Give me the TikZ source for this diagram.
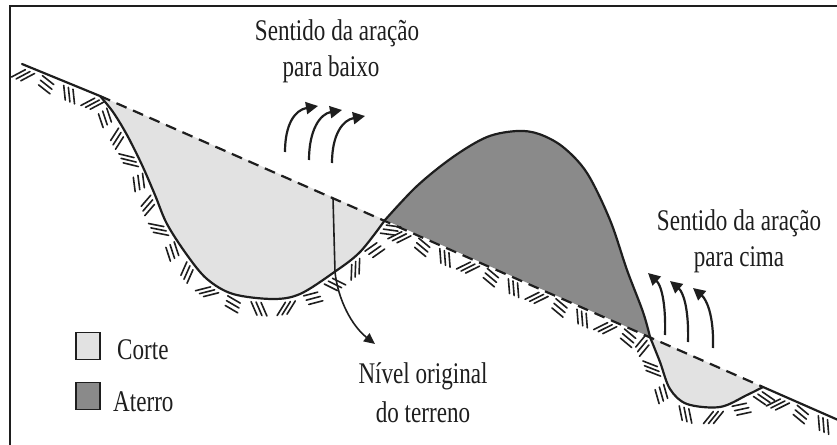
\documentclass[tikz,border=0pt]{standalone}
\usepackage{fontspec}
\setmainfont{Liberation Serif}[FakeStretch=0.77]
\usetikzlibrary{decorations.markings,arrows.meta}

\definecolor{ink}{HTML}{1E1E1E}
\definecolor{cutgray}{HTML}{E2E2E2}
\definecolor{fillgray}{HTML}{8A8A8A}

% one group of three short strokes below the ground line, three kinds in turn
\newcommand\hatchgroup{%
  \pgfmathtruncatemacro\hk{mod(\pgfkeysvalueof{/pgf/decoration/mark info/sequence number},3)}%
  \ifcase\hk
    \foreach \d in {-5,0,5}{\draw[hatchline] (\d pt-3.5pt,-4pt) -- (\d pt+3.5pt,-17pt);}%
  \or
    \foreach \d in {-5,0,5}{\draw[hatchline] (\d pt+5pt,-4pt) -- (\d pt-5pt,-16pt);}%
  \or
    \foreach \d in {-5,-10,-15}{\draw[hatchline] (-7pt,\d pt+2pt) -- (7pt,\d pt-2pt);}%
  \fi}

\tikzset{
  ground/.style={draw=ink, line width=2.2pt, line join=round, line cap=round},
  original/.style={draw=ink, line width=2.2pt, dash pattern=on 11pt off 7pt},
  plow/.style={draw=ink, line width=2.2pt, -{Triangle[length=12pt,width=12pt]}},
  levelmark/.style={draw=ink, line width=1.6pt, -{Triangle[length=11pt,width=10pt]}},
  lbl/.style={font=\fontsize{30}{34}\selectfont, text=ink, inner sep=0pt, anchor=base},
  legbox/.style={draw=ink, line width=1.8pt, minimum width=24pt, minimum height=27pt, inner sep=0pt},
  hatchline/.style={draw=ink, line width=1.6pt, line cap=round},
  hatched/.style={decoration={markings, mark=between positions 0.005 and 1 step 25pt with {\hatchgroup}}, postaction={decorate}},
}

\begin{document}
\begin{tikzpicture}[x=1pt,y=-1pt]
\useasboundingbox (0,0) rectangle (837,444);
\clip (0,0) rectangle (837,444);

% frame
\draw[ink, line width=2.6pt] (10,470) -- (10,6) -- (860,6);

% key points of the profile
\coordinate (k0) at (22,64);
\coordinate (k1) at (100,96);
\coordinate (k2) at (385,220);
\coordinate (k3) at (650,337);
\coordinate (k4) at (763,387);
\coordinate (k5) at (845,423);

% cut areas
\fill[cutgray] plot[smooth, tension=0.55] coordinates {(100,96) (113,112) (127,135) (142,165) (155,195) (167,224) (187,255) (207,279) (233,294) (273,299) (300,294) (333,273) (360,252) (385,220)} -- cycle;
\fill[cutgray] plot[smooth, tension=0.55] coordinates {(650,337) (660,362) (670,389) (687,404) (720,407) (747,395) (763,387)} -- cycle;

% fill area
\fill[fillgray] plot[smooth, tension=0.55] coordinates {(385,220) (417,186) (453,157) (487,137) (517,131) (539,134) (563,147) (587,173) (610,220) (627,270) (643,312) (650,337)} -- cycle;

% hatching along the ground below
\path[hatched] (k0) -- plot[smooth, tension=0.55] coordinates {(100,96) (113,112) (127,135) (142,165) (155,195) (167,224) (187,255) (207,279) (233,294) (273,299) (300,294) (333,273) (360,252) (385,220)} -- plot[smooth, tension=0.55] coordinates {(650,337) (660,362) (670,389) (687,404) (720,407) (747,395) (763,387)} -- (k5);

% final ground lines
\draw[ground] (k0) -- plot[smooth, tension=0.55] coordinates {(100,96) (113,112) (127,135) (142,165) (155,195) (167,224) (187,255) (207,279) (233,294) (273,299) (300,294) (333,273) (360,252) (385,220)};
\draw[ground] plot[smooth, tension=0.55] coordinates {(385,220) (417,186) (453,157) (487,137) (517,131) (539,134) (563,147) (587,173) (610,220) (627,270) (643,312) (650,337)};
\draw[ground] plot[smooth, tension=0.55] coordinates {(650,337) (660,362) (670,389) (687,404) (720,407) (747,395) (763,387)} -- (k5);

% original ground level
\draw[original] (k1) -- (k4);

% marker of the original level
\coordinate (m0) at (333,198);
\coordinate (m1) at (335,272);
\coordinate (m2) at (375,344);
\draw[levelmark] (m0) -- (m1) .. controls (338,300) and (352,326) .. (m2);

% ploughing directions, downhill
\coordinate (a1s) at (285,152); \coordinate (a1e) at (318,106);
\coordinate (a2s) at (309,160); \coordinate (a2e) at (342,110);
\coordinate (a3s) at (332,163); \coordinate (a3e) at (365,116);
\draw[plow] (a1s) .. controls (285,124) and (295,110) .. (a1e);
\draw[plow] (a2s) .. controls (309,130) and (320,114) .. (a2e);
\draw[plow] (a3s) .. controls (332,134) and (343,120) .. (a3e);

% ploughing directions, uphill
\coordinate (b1s) at (665,335); \coordinate (b1e) at (648,273);
\coordinate (b2s) at (688,342); \coordinate (b2e) at (670,281);
\coordinate (b3s) at (713,348); \coordinate (b3e) at (693,288);
\draw[plow] (b1s) .. controls (666,302) and (661,285) .. (b1e);
\draw[plow] (b2s) .. controls (689,308) and (683,292) .. (b2e);
\draw[plow] (b3s) .. controls (714,314) and (706,299) .. (b3e);

% labels
\node[lbl] (down1) at (337,41) {Sentido da aração};
\node[lbl] (down2) at (331,76) {para baixo};
\node[lbl] (up1) at (739,230) {Sentido da aração};
\node[lbl] (up2) at (739,266) {para cima};
\node[lbl] (lev1) at (423,383) {Nível original};
\node[lbl] (lev2) at (423,422) {do terreno};

% key
\node[legbox, fill=cutgray] (keycut) at (88,346) {};
\node[legbox, fill=fillgray] (keyfill) at (88,396) {};
\node[lbl, anchor=base west] (keycuttxt) at (117,359) {Corte};
\node[lbl, anchor=base west] (keyfilltxt) at (113,411) {Aterro};
\end{tikzpicture}
\end{document}
